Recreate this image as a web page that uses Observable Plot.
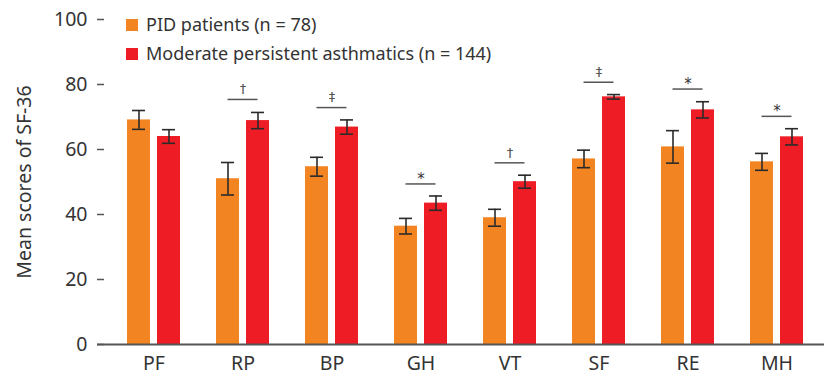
<!DOCTYPE html>
<html>
<head>
<meta charset="utf-8">
<script src="https://cdn.jsdelivr.net/npm/d3@7"></script>
<script src="https://cdn.jsdelivr.net/npm/@observablehq/plot@0.6"></script>
<style>
  html, body { margin: 0; padding: 0; background: #fff; }
  #wrap { position: relative; width: 824px; height: 376px; font-family: "Noto Sans", Roboto, sans-serif; color: #333; }
  .legend { position: absolute; left: 126px; top: 10px; font-size: 18px; line-height: 29px; }
  .legend .row { display: flex; align-items: center; }
  .legend .sw { width: 12px; height: 12px; margin-right: 8px; }
</style>
</head>
<body>
<div id="wrap">
  <div class="legend" id="legend"></div>
</div>
<script>
const categories = ["PF", "RP", "BP", "GH", "VT", "SF", "RE", "MH"];
const seriesNames = ["PID patients (n = 78)", "Moderate persistent asthmatics (n = 144)"];
const seriesColors = ["#F28422", "#EE1D25"];
const pidMean = [69.1, 51.0, 54.7, 36.4, 39.0, 57.1, 60.8, 56.2];
const pidErr = [2.9, 5.0, 2.9, 2.4, 2.6, 2.7, 5.0, 2.6];
const asthMean = [64.0, 68.9, 66.9, 43.5, 50.1, 76.2, 72.2, 63.9];
const asthErr = [2.1, 2.5, 2.2, 2.2, 2.0, 0.7, 2.5, 2.5];
const sigSymbols = ["", "†", "‡", "*", "†", "‡", "*", "*"];
const sigLevel = [null, 75.4, 72.9, 49.4, 55.9, 80.7, 78.6, 70.2];
const yTicks = [0, 20, 40, 60, 80, 100];

const rows = categories.map((c, i) => ({
  cat: c,
  pid: pidMean[i], pidLo: pidMean[i] - pidErr[i], pidHi: pidMean[i] + pidErr[i],
  ast: asthMean[i], astLo: asthMean[i] - asthErr[i], astHi: asthMean[i] + asthErr[i],
  sym: sigSymbols[i], sig: sigLevel[i]
}));
const sigRows = rows.filter(d => d.sig != null);
const daggers = sigRows.filter(d => d.sym !== "*");
const stars = sigRows.filter(d => d.sym === "*");

const errColor = "#2a2a2a";
const lineColor = "#555";
const textColor = "#333";
const W = 824, ML = 97, MR = 0;

const chart = Plot.plot({
  width: W,
  height: 376,
  marginLeft: ML,
  marginRight: MR,
  marginTop: 19,
  marginBottom: 32,
  style: { fontFamily: "'Noto Sans', Roboto, sans-serif", fontSize: "19px", color: textColor, background: "#fff" },
  x: { domain: categories, range: [126, 804], paddingInner: 0.4065, paddingOuter: 0, label: null, axis: null },
  y: { domain: [0, 100], label: null },
  marks: [
    Plot.barY(rows, { x: "cat", y: "pid", fill: seriesColors[0], insetRight: 30 }),
    Plot.barY(rows, { x: "cat", y: "ast", fill: seriesColors[1], insetLeft: 30 }),
    Plot.ruleX(rows, { x: "cat", y1: "pidLo", y2: "pidHi", dx: -15, stroke: errColor, strokeWidth: 1.6 }),
    Plot.tickY(rows, { x: "cat", y: "pidLo", insetLeft: 5, insetRight: 35, stroke: errColor, strokeWidth: 1.6 }),
    Plot.tickY(rows, { x: "cat", y: "pidHi", insetLeft: 5, insetRight: 35, stroke: errColor, strokeWidth: 1.6 }),
    Plot.ruleX(rows, { x: "cat", y1: "astLo", y2: "astHi", dx: 15, stroke: errColor, strokeWidth: 1.6 }),
    Plot.tickY(rows, { x: "cat", y: "astLo", insetLeft: 35, insetRight: 5, stroke: errColor, strokeWidth: 1.6 }),
    Plot.tickY(rows, { x: "cat", y: "astHi", insetLeft: 35, insetRight: 5, stroke: errColor, strokeWidth: 1.6 }),
    Plot.tickY(sigRows, { x: "cat", y: "sig", insetLeft: 11.5, insetRight: 11.5, stroke: lineColor, strokeWidth: 1.5 }),
    Plot.text(daggers, { x: "cat", y: "sig", text: "sym", dy: -10, fontSize: 12, fontFamily: "'DejaVu Sans', sans-serif", fill: lineColor, stroke: lineColor, strokeWidth: 0.25 }),
    Plot.text(stars, { x: "cat", y: "sig", text: "sym", dy: -5, fontSize: 15, fontFamily: "'DejaVu Sans', sans-serif", fill: textColor }),
    Plot.ruleY([0], { stroke: lineColor, strokeWidth: 2 }),
    // y axis line and inward tick marks
    Plot.axisY(yTicks, { tickSize: 0, tickFormat: () => "", line: true, stroke: lineColor, strokeWidth: 1.5, label: null }),
    Plot.ruleY(yTicks, { y: d => d, insetRight: W - ML - MR - 7, stroke: lineColor, strokeWidth: 1.5 }),
    // tick labels
    Plot.text(yTicks, { y: d => d, text: d => String(d), frameAnchor: "left", textAnchor: "end", dx: -10, fontSize: 19.5, fill: textColor }),
    Plot.text(categories, { x: d => d, text: d => d, frameAnchor: "bottom", lineAnchor: "top", dy: 12, fontSize: 19.5, fill: textColor }),
    Plot.text(["Mean scores of SF-36"], { frameAnchor: "left", textAnchor: "middle", dx: -73, rotate: -90, fontSize: 19.5, fill: textColor })
  ]
});
document.getElementById("wrap").appendChild(chart);

const legend = document.getElementById("legend");
seriesNames.forEach((name, i) => {
  const row = document.createElement("div");
  row.className = "row";
  const sw = document.createElement("span");
  sw.className = "sw";
  sw.style.background = seriesColors[i];
  const t = document.createElement("span");
  t.textContent = name;
  row.appendChild(sw);
  row.appendChild(t);
  legend.appendChild(row);
});
</script>
</body>
</html>
